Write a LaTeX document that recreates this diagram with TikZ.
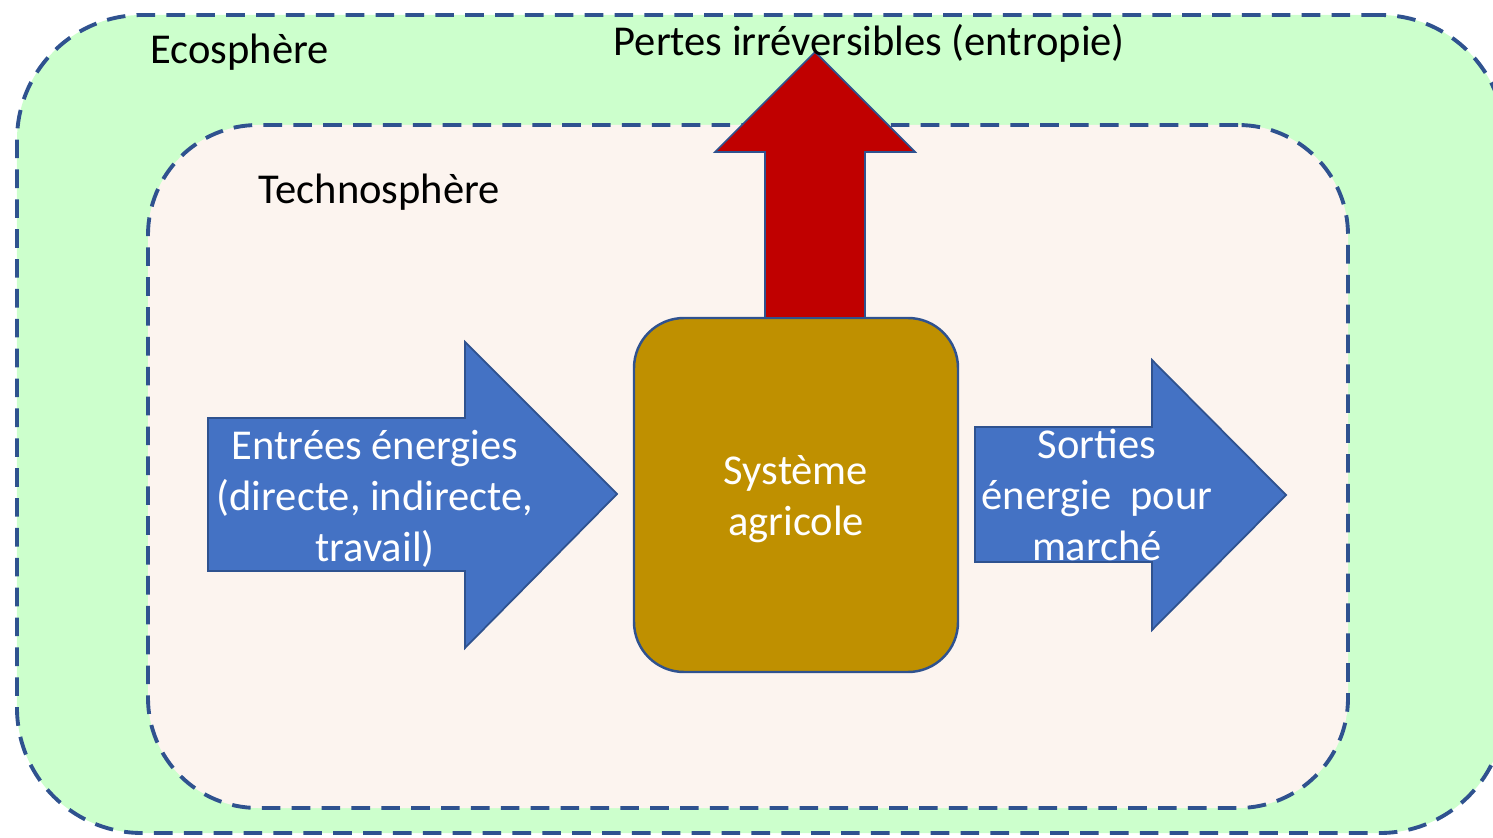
\documentclass[tikz,border=0pt]{standalone}
\usepackage{fontspec}
\setmainfont{Carlito}
\usetikzlibrary{positioning}
\definecolor{ecogreen}{HTML}{CCFFCC}
\definecolor{technobg}{HTML}{FCF4EF}
\definecolor{edgeblue}{HTML}{2F528F}
\definecolor{arrowblue}{HTML}{4472C4}
\definecolor{lossred}{HTML}{C00000}
\definecolor{agrigold}{HTML}{BF9000}
\tikzset{sph/.style={draw=edgeblue, line width=1.1pt, dash pattern=on 5.3pt off 3.2pt}}
\tikzset{blk/.style={draw=edgeblue, line width=0.5pt, line join=miter, fill=arrowblue}}
\tikzset{wt/.style={text=white, align=center, inner sep=0pt}}

\begin{document}
\begin{tikzpicture}[font=\fontsize{12.1}{14.5}\selectfont]
    \useasboundingbox (0,0) rectangle (14.93,8.37);

    % spheres
    \node(eco)[sph, fill=ecogreen, rounded corners=1.25cm, minimum width=14.88cm, minimum height=8.18cm] at (7.61,4.13){};
    \node(techno)[sph, fill=technobg, rounded corners=1.1cm, minimum width=12cm, minimum height=6.83cm] at (7.48,3.705){};

    % centre
    \node(agri)[draw=edgeblue, line width=0.7pt, fill=agrigold, rounded corners=0.5cm, minimum width=3.24cm, minimum height=3.54cm] at (7.96,3.42){};

    % left arrow
    \draw[blk] (2.08,4.19) -- (4.65,4.19) -- (4.65,4.95) -- (6.17,3.43) -- (4.65,1.89) -- (4.65,2.66) -- (2.08,2.66) -- cycle;
    % right arrow
    \draw[blk] (9.75,4.10) -- (11.52,4.10) -- (11.52,4.77) -- (12.86,3.42) -- (11.52,2.07) -- (11.52,2.75) -- (9.75,2.75) -- cycle;
    % up arrow
    \draw[blk, fill=lossred] (7.65,5.19) -- (7.65,6.85) -- (7.15,6.85) -- (8.15,7.85) -- (9.15,6.85) -- (8.65,6.85) -- (8.65,5.19) -- cycle;

    % labels
    \node(ecoL)[anchor=west, inner sep=0pt] at (1.50,7.85){Ecosphère};
    \node(technoL)[anchor=west, inner sep=0pt] at (2.58,6.45){Technosphère};
    \node(pertes)[anchor=west, inner sep=0pt] at (6.13,7.94){Pertes irréversibles (entropie)};

    \node(entrees)[wt] at (3.75,3.38){Entrées énergies\\(directe, indirecte,\\travail)};
    \node(systeme)[wt] at (7.96,3.38){Système\\agricole};
    \node(sorties)[wt] at (10.97,3.42){Sorties\\énergie\ \ pour\\marché};

\end{tikzpicture}
\end{document}
